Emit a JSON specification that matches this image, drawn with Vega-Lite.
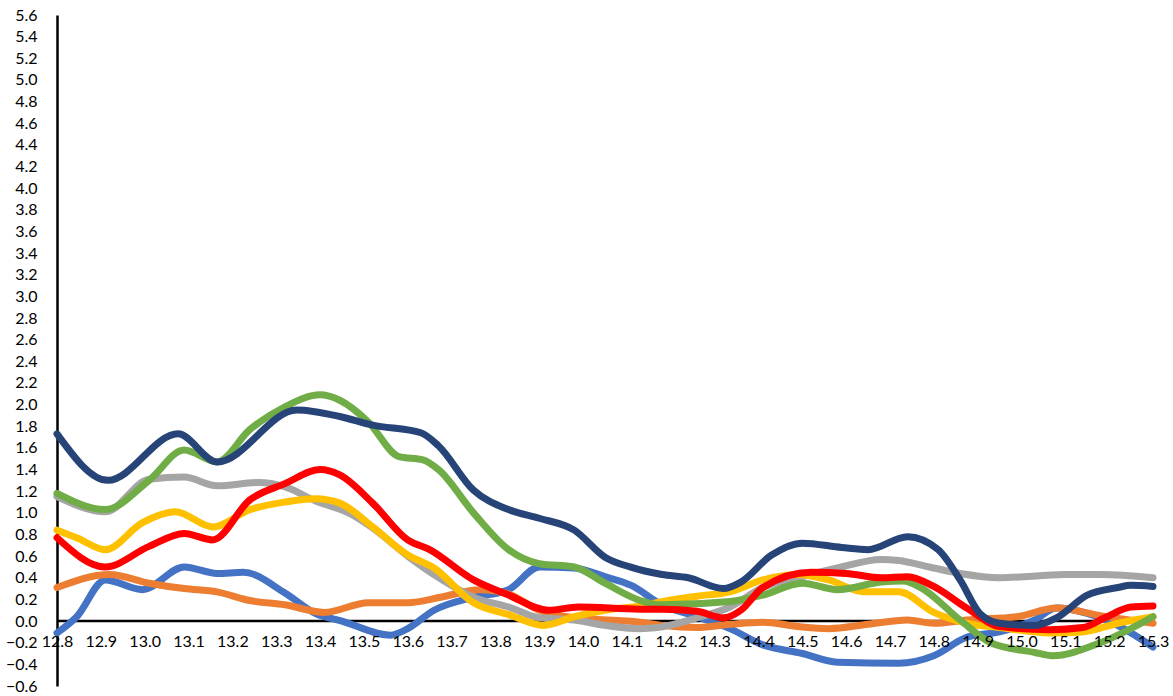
{
  "$schema": "https://vega.github.io/schema/vega-lite/v6.json",
  "width": 1096,
  "height": 671,
  "autosize": {"type": "none"},
  "padding": {"left": 57, "top": 15, "right": 20, "bottom": 10},
  "background": "white",
  "config": {
    "view": {"stroke": null},
    "font": "Lato",
    "axis": {
      "labelFont": "Lato",
      "labelFontSize": 16,
      "labelColor": "#000000",
      "grid": false,
      "ticks": false,
      "tickSize": 0,
      "title": null
    }
  },
  "datasets": {
    "zero": [{"y": 0}],
    "lines": [
      {"series": "Series1", "x": 12.8, "y": -0.11},
      {"series": "Series1", "x": 12.845, "y": 0.04},
      {"series": "Series1", "x": 12.91, "y": 0.38},
      {"series": "Series1", "x": 12.995, "y": 0.29},
      {"series": "Series1", "x": 13.09, "y": 0.5},
      {"series": "Series1", "x": 13.165, "y": 0.44},
      {"series": "Series1", "x": 13.225, "y": 0.45},
      {"series": "Series1", "x": 13.32, "y": 0.26},
      {"series": "Series1", "x": 13.39, "y": 0.07},
      {"series": "Series1", "x": 13.45, "y": 0.0},
      {"series": "Series1", "x": 13.56, "y": -0.13},
      {"series": "Series1", "x": 13.6, "y": -0.07},
      {"series": "Series1", "x": 13.66, "y": 0.1},
      {"series": "Series1", "x": 13.75, "y": 0.22},
      {"series": "Series1", "x": 13.83, "y": 0.29},
      {"series": "Series1", "x": 13.9, "y": 0.5},
      {"series": "Series1", "x": 13.98, "y": 0.49},
      {"series": "Series1", "x": 14.05, "y": 0.41},
      {"series": "Series1", "x": 14.11, "y": 0.33},
      {"series": "Series1", "x": 14.18, "y": 0.15},
      {"series": "Series1", "x": 14.26, "y": 0.04},
      {"series": "Series1", "x": 14.335, "y": -0.07},
      {"series": "Series1", "x": 14.41, "y": -0.22},
      {"series": "Series1", "x": 14.5, "y": -0.3},
      {"series": "Series1", "x": 14.58, "y": -0.38},
      {"series": "Series1", "x": 14.72, "y": -0.39},
      {"series": "Series1", "x": 14.8, "y": -0.32},
      {"series": "Series1", "x": 14.875, "y": -0.15},
      {"series": "Series1", "x": 14.95, "y": -0.1},
      {"series": "Series1", "x": 15.03, "y": 0.01},
      {"series": "Series1", "x": 15.08, "y": 0.12},
      {"series": "Series1", "x": 15.15, "y": 0.07},
      {"series": "Series1", "x": 15.21, "y": -0.02},
      {"series": "Series1", "x": 15.3, "y": -0.24},

      {"series": "Series2", "x": 12.8, "y": 0.31},
      {"series": "Series2", "x": 12.92, "y": 0.43},
      {"series": "Series2", "x": 13.01, "y": 0.35},
      {"series": "Series2", "x": 13.09, "y": 0.3},
      {"series": "Series2", "x": 13.165, "y": 0.27},
      {"series": "Series2", "x": 13.24, "y": 0.19},
      {"series": "Series2", "x": 13.32, "y": 0.15},
      {"series": "Series2", "x": 13.41, "y": 0.08},
      {"series": "Series2", "x": 13.51, "y": 0.17},
      {"series": "Series2", "x": 13.6, "y": 0.17},
      {"series": "Series2", "x": 13.675, "y": 0.22},
      {"series": "Series2", "x": 13.765, "y": 0.29},
      {"series": "Series2", "x": 13.83, "y": 0.25},
      {"series": "Series2", "x": 13.9, "y": 0.1},
      {"series": "Series2", "x": 13.98, "y": 0.03},
      {"series": "Series2", "x": 14.13, "y": -0.01},
      {"series": "Series2", "x": 14.18, "y": -0.04},
      {"series": "Series2", "x": 14.26, "y": -0.06},
      {"series": "Series2", "x": 14.335, "y": -0.03},
      {"series": "Series2", "x": 14.41, "y": -0.01},
      {"series": "Series2", "x": 14.49, "y": -0.05},
      {"series": "Series2", "x": 14.56, "y": -0.07},
      {"series": "Series2", "x": 14.65, "y": -0.03},
      {"series": "Series2", "x": 14.74, "y": 0.01},
      {"series": "Series2", "x": 14.8, "y": -0.02},
      {"series": "Series2", "x": 14.875, "y": 0.01},
      {"series": "Series2", "x": 14.99, "y": 0.04},
      {"series": "Series2", "x": 15.08, "y": 0.12},
      {"series": "Series2", "x": 15.18, "y": 0.05},
      {"series": "Series2", "x": 15.3, "y": -0.02},

      {"series": "Series3", "x": 12.8, "y": 1.15},
      {"series": "Series3", "x": 12.91, "y": 1.01},
      {"series": "Series3", "x": 13.01, "y": 1.31},
      {"series": "Series3", "x": 13.09, "y": 1.33},
      {"series": "Series3", "x": 13.165, "y": 1.25},
      {"series": "Series3", "x": 13.26, "y": 1.28},
      {"series": "Series3", "x": 13.32, "y": 1.24},
      {"series": "Series3", "x": 13.39, "y": 1.11},
      {"series": "Series3", "x": 13.47, "y": 0.99},
      {"series": "Series3", "x": 13.52, "y": 0.86},
      {"series": "Series3", "x": 13.6, "y": 0.6},
      {"series": "Series3", "x": 13.675, "y": 0.39},
      {"series": "Series3", "x": 13.75, "y": 0.22},
      {"series": "Series3", "x": 13.83, "y": 0.13},
      {"series": "Series3", "x": 13.9, "y": 0.03},
      {"series": "Series3", "x": 13.98, "y": 0.01},
      {"series": "Series3", "x": 14.05, "y": -0.04},
      {"series": "Series3", "x": 14.13, "y": -0.07},
      {"series": "Series3", "x": 14.17, "y": -0.06},
      {"series": "Series3", "x": 14.26, "y": 0.03},
      {"series": "Series3", "x": 14.335, "y": 0.13},
      {"series": "Series3", "x": 14.41, "y": 0.31},
      {"series": "Series3", "x": 14.49, "y": 0.4},
      {"series": "Series3", "x": 14.58, "y": 0.49},
      {"series": "Series3", "x": 14.68, "y": 0.57},
      {"series": "Series3", "x": 14.72, "y": 0.56},
      {"series": "Series3", "x": 14.79, "y": 0.5},
      {"series": "Series3", "x": 14.86, "y": 0.44},
      {"series": "Series3", "x": 14.95, "y": 0.4},
      {"series": "Series3", "x": 15.1, "y": 0.43},
      {"series": "Series3", "x": 15.18, "y": 0.43},
      {"series": "Series3", "x": 15.3, "y": 0.4},

      {"series": "Series4", "x": 12.8, "y": 0.84},
      {"series": "Series4", "x": 12.845, "y": 0.77},
      {"series": "Series4", "x": 12.91, "y": 0.66},
      {"series": "Series4", "x": 12.995, "y": 0.91},
      {"series": "Series4", "x": 13.07, "y": 1.01},
      {"series": "Series4", "x": 13.155, "y": 0.87},
      {"series": "Series4", "x": 13.24, "y": 1.03},
      {"series": "Series4", "x": 13.32, "y": 1.1},
      {"series": "Series4", "x": 13.39, "y": 1.13},
      {"series": "Series4", "x": 13.445, "y": 1.09},
      {"series": "Series4", "x": 13.52, "y": 0.87},
      {"series": "Series4", "x": 13.6, "y": 0.61},
      {"series": "Series4", "x": 13.66, "y": 0.49},
      {"series": "Series4", "x": 13.75, "y": 0.17},
      {"series": "Series4", "x": 13.83, "y": 0.06},
      {"series": "Series4", "x": 13.91, "y": -0.04},
      {"series": "Series4", "x": 13.98, "y": 0.04},
      {"series": "Series4", "x": 14.05, "y": 0.1},
      {"series": "Series4", "x": 14.13, "y": 0.14},
      {"series": "Series4", "x": 14.18, "y": 0.18},
      {"series": "Series4", "x": 14.26, "y": 0.23},
      {"series": "Series4", "x": 14.335, "y": 0.27},
      {"series": "Series4", "x": 14.41, "y": 0.38},
      {"series": "Series4", "x": 14.49, "y": 0.43},
      {"series": "Series4", "x": 14.56, "y": 0.38},
      {"series": "Series4", "x": 14.64, "y": 0.27},
      {"series": "Series4", "x": 14.72, "y": 0.27},
      {"series": "Series4", "x": 14.8, "y": 0.08},
      {"series": "Series4", "x": 14.875, "y": -0.02},
      {"series": "Series4", "x": 14.95, "y": -0.06},
      {"series": "Series4", "x": 15.065, "y": -0.11},
      {"series": "Series4", "x": 15.14, "y": -0.1},
      {"series": "Series4", "x": 15.22, "y": -0.02},
      {"series": "Series4", "x": 15.3, "y": 0.04},

      {"series": "Series5", "x": 12.8, "y": 1.18},
      {"series": "Series5", "x": 12.91, "y": 1.03},
      {"series": "Series5", "x": 13.01, "y": 1.3},
      {"series": "Series5", "x": 13.09, "y": 1.58},
      {"series": "Series5", "x": 13.165, "y": 1.47},
      {"series": "Series5", "x": 13.24, "y": 1.77},
      {"series": "Series5", "x": 13.32, "y": 1.98},
      {"series": "Series5", "x": 13.4, "y": 2.09},
      {"series": "Series5", "x": 13.445, "y": 2.04},
      {"series": "Series5", "x": 13.51, "y": 1.84},
      {"series": "Series5", "x": 13.58, "y": 1.52},
      {"series": "Series5", "x": 13.635, "y": 1.49},
      {"series": "Series5", "x": 13.67, "y": 1.4},
      {"series": "Series5", "x": 13.75, "y": 1.0},
      {"series": "Series5", "x": 13.83, "y": 0.66},
      {"series": "Series5", "x": 13.9, "y": 0.53},
      {"series": "Series5", "x": 13.98, "y": 0.5},
      {"series": "Series5", "x": 14.05, "y": 0.35},
      {"series": "Series5", "x": 14.13, "y": 0.19},
      {"series": "Series5", "x": 14.18, "y": 0.15},
      {"series": "Series5", "x": 14.335, "y": 0.18},
      {"series": "Series5", "x": 14.41, "y": 0.24},
      {"series": "Series5", "x": 14.5, "y": 0.35},
      {"series": "Series5", "x": 14.58, "y": 0.29},
      {"series": "Series5", "x": 14.68, "y": 0.36},
      {"series": "Series5", "x": 14.73, "y": 0.37},
      {"series": "Series5", "x": 14.77, "y": 0.31},
      {"series": "Series5", "x": 14.86, "y": 0.01},
      {"series": "Series5", "x": 14.93, "y": -0.2},
      {"series": "Series5", "x": 15.03, "y": -0.29},
      {"series": "Series5", "x": 15.07, "y": -0.32},
      {"series": "Series5", "x": 15.18, "y": -0.2},
      {"series": "Series5", "x": 15.3, "y": 0.04},

      {"series": "Series6", "x": 12.8, "y": 0.77},
      {"series": "Series6", "x": 12.91, "y": 0.5},
      {"series": "Series6", "x": 13.01, "y": 0.69},
      {"series": "Series6", "x": 13.09, "y": 0.81},
      {"series": "Series6", "x": 13.155, "y": 0.75},
      {"series": "Series6", "x": 13.24, "y": 1.12},
      {"series": "Series6", "x": 13.32, "y": 1.27},
      {"series": "Series6", "x": 13.4, "y": 1.4},
      {"series": "Series6", "x": 13.445, "y": 1.35},
      {"series": "Series6", "x": 13.52, "y": 1.09},
      {"series": "Series6", "x": 13.6, "y": 0.75},
      {"series": "Series6", "x": 13.65, "y": 0.66},
      {"series": "Series6", "x": 13.75, "y": 0.38},
      {"series": "Series6", "x": 13.83, "y": 0.24},
      {"series": "Series6", "x": 13.92, "y": 0.1},
      {"series": "Series6", "x": 13.99, "y": 0.13},
      {"series": "Series6", "x": 14.13, "y": 0.11},
      {"series": "Series6", "x": 14.18, "y": 0.11},
      {"series": "Series6", "x": 14.26, "y": 0.09},
      {"series": "Series6", "x": 14.32, "y": 0.03},
      {"series": "Series6", "x": 14.36, "y": 0.1},
      {"series": "Series6", "x": 14.41, "y": 0.31},
      {"series": "Series6", "x": 14.52, "y": 0.45},
      {"series": "Series6", "x": 14.6, "y": 0.44},
      {"series": "Series6", "x": 14.68, "y": 0.4},
      {"series": "Series6", "x": 14.74, "y": 0.41},
      {"series": "Series6", "x": 14.8, "y": 0.32},
      {"series": "Series6", "x": 14.875, "y": 0.12},
      {"series": "Series6", "x": 14.95, "y": -0.05},
      {"series": "Series6", "x": 15.065, "y": -0.08},
      {"series": "Series6", "x": 15.14, "y": -0.06},
      {"series": "Series6", "x": 15.19, "y": 0.03},
      {"series": "Series6", "x": 15.25, "y": 0.13},
      {"series": "Series6", "x": 15.3, "y": 0.14},

      {"series": "Series7", "x": 12.8, "y": 1.73},
      {"series": "Series7", "x": 12.916, "y": 1.3},
      {"series": "Series7", "x": 13.076, "y": 1.73},
      {"series": "Series7", "x": 13.165, "y": 1.47},
      {"series": "Series7", "x": 13.347, "y": 1.95},
      {"series": "Series7", "x": 13.445, "y": 1.89},
      {"series": "Series7", "x": 13.52, "y": 1.81},
      {"series": "Series7", "x": 13.63, "y": 1.74},
      {"series": "Series7", "x": 13.67, "y": 1.62},
      {"series": "Series7", "x": 13.75, "y": 1.21},
      {"series": "Series7", "x": 13.83, "y": 1.03},
      {"series": "Series7", "x": 13.9, "y": 0.95},
      {"series": "Series7", "x": 13.98, "y": 0.84},
      {"series": "Series7", "x": 14.05, "y": 0.59},
      {"series": "Series7", "x": 14.107, "y": 0.5},
      {"series": "Series7", "x": 14.18, "y": 0.43},
      {"series": "Series7", "x": 14.24, "y": 0.4},
      {"series": "Series7", "x": 14.32, "y": 0.3},
      {"series": "Series7", "x": 14.36, "y": 0.36},
      {"series": "Series7", "x": 14.43, "y": 0.61},
      {"series": "Series7", "x": 14.5, "y": 0.72},
      {"series": "Series7", "x": 14.59, "y": 0.68},
      {"series": "Series7", "x": 14.65, "y": 0.66},
      {"series": "Series7", "x": 14.74, "y": 0.78},
      {"series": "Series7", "x": 14.81, "y": 0.66},
      {"series": "Series7", "x": 14.86, "y": 0.38},
      {"series": "Series7", "x": 14.905, "y": 0.07},
      {"series": "Series7", "x": 14.95, "y": -0.02},
      {"series": "Series7", "x": 15.03, "y": -0.04},
      {"series": "Series7", "x": 15.08, "y": 0.03},
      {"series": "Series7", "x": 15.15, "y": 0.24},
      {"series": "Series7", "x": 15.22, "y": 0.31},
      {"series": "Series7", "x": 15.25, "y": 0.33},
      {"series": "Series7", "x": 15.3, "y": 0.32}
    ]
  },
  "encoding": {
    "y": {
      "field": "y",
      "type": "quantitative",
      "scale": {"domain": [-0.6, 5.6], "nice": false, "zero": false},
      "axis": {
        "values": [-0.6, -0.4, -0.2, 0, 0.2, 0.4, 0.6, 0.8, 1, 1.2, 1.4, 1.6, 1.8, 2, 2.2, 2.4, 2.6, 2.8, 3, 3.2, 3.4, 3.6, 3.8, 4, 4.2, 4.4, 4.6, 4.8, 5, 5.2, 5.4, 5.6],
        "format": ".1f",
        "domain": true,
        "domainColor": "#000000",
        "domainWidth": 2.5,
        "labelPadding": 20,
        "labelOverlap": false,
        "labelFlush": false,
        "labelBound": false,
        "labelSeparation": 0
      }
    }
  },
  "layer": [
    {
      "data": {"name": "zero"},
      "mark": {"type": "rule", "color": "#000000", "strokeWidth": 2.5}
    },
    {
      "data": {"name": "lines"},
      "mark": {"type": "line", "interpolate": "monotone", "strokeWidth": 7, "strokeCap": "round", "strokeJoin": "round"},
      "encoding": {
        "x": {
          "field": "x",
          "type": "quantitative",
          "scale": {"domain": [12.8, 15.3], "nice": false, "zero": false},
          "axis": {
            "values": [12.8, 12.9, 13.0, 13.1, 13.2, 13.3, 13.4, 13.5, 13.6, 13.7, 13.8, 13.9, 14.0, 14.1, 14.2, 14.3, 14.4, 14.5, 14.6, 14.7, 14.8, 14.9, 15.0, 15.1, 15.2, 15.3],
            "format": ".1f",
            "domain": false,
            "offset": -65,
            "labelPadding": 12,
            "labelOverlap": false,
            "labelFlush": false,
            "labelBound": false,
            "zindex": 1
          }
        },
        "color": {
          "field": "series",
          "type": "nominal",
          "scale": {
            "domain": ["Series1", "Series2", "Series3", "Series4", "Series5", "Series6", "Series7"],
            "range": ["#4472C4", "#ED7D31", "#A5A5A5", "#FFC000", "#70AD47", "#FF0000", "#264478"]
          },
          "legend": null
        }
      }
    }
  ]
}
